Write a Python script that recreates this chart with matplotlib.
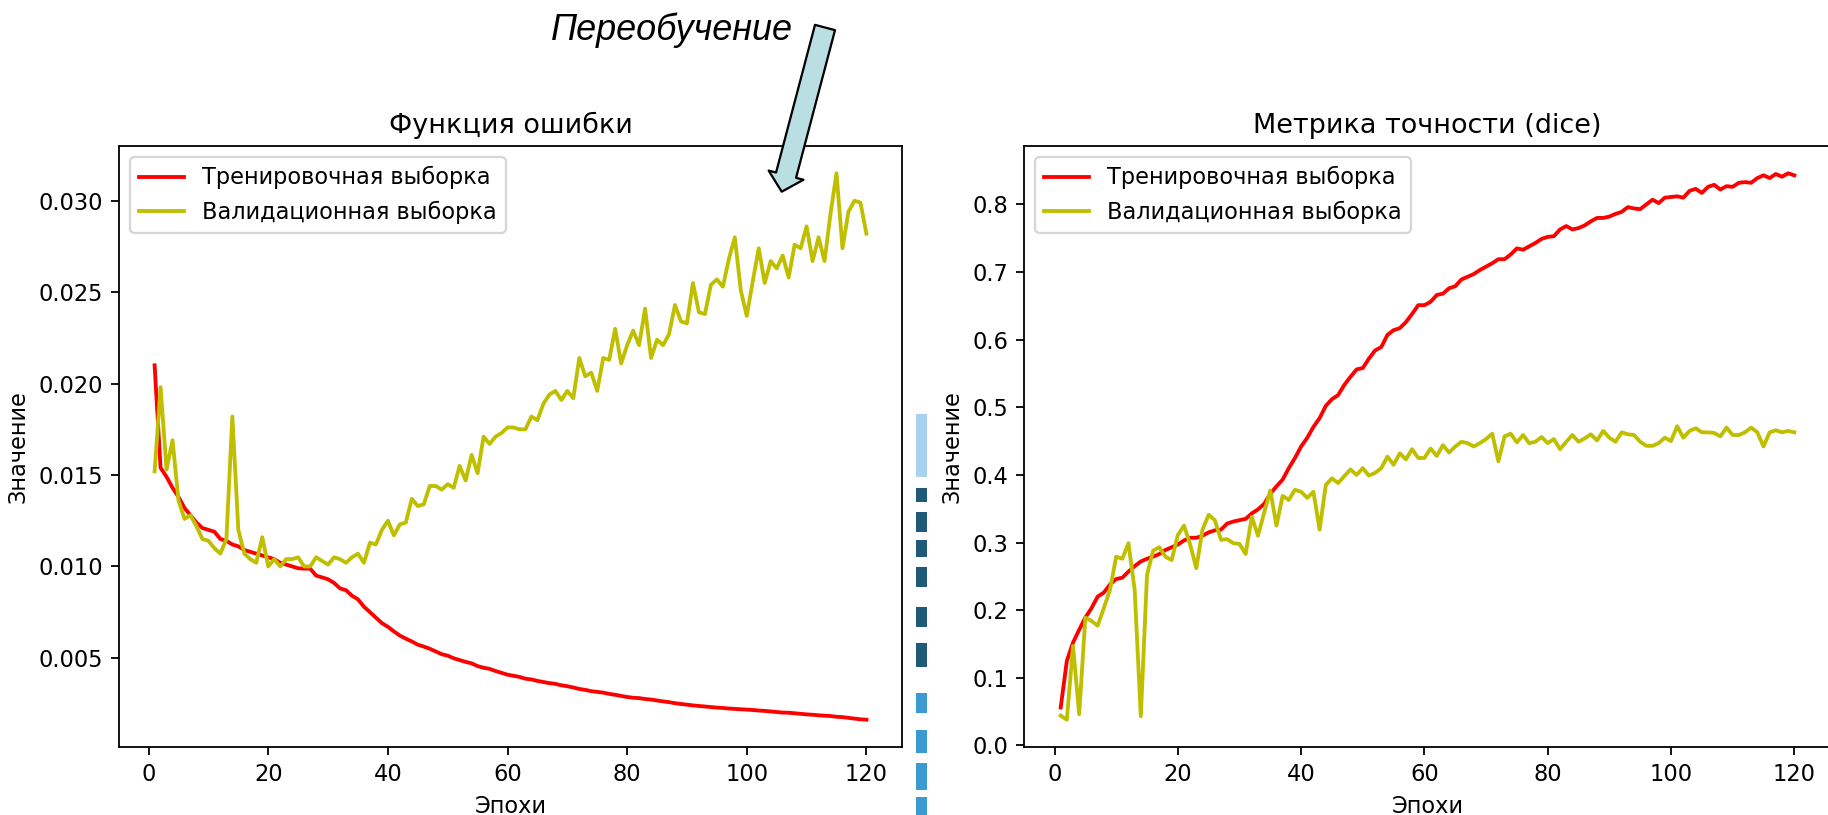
import numpy as np
import matplotlib
matplotlib.use("Agg")
import matplotlib.pyplot as plt
from matplotlib.patches import Rectangle

# DATA
epochs = np.arange(1, 121)

loss_train = [
    0.0210, 0.0154, 0.0149, 0.0143, 0.0138, 0.0132, 0.0128, 0.0124, 0.0121, 0.0120,
    0.0119, 0.0115, 0.0114, 0.0112, 0.0111, 0.0109, 0.0108, 0.0107, 0.0106, 0.0105,
    0.0104, 0.0102, 0.0101, 0.0100, 0.0099, 0.00988, 0.00988, 0.0095, 0.0094, 0.0093,
    0.0091, 0.0088, 0.0087, 0.0084, 0.0082, 0.0078, 0.0075, 0.0072, 0.0069, 0.0067,
    0.00645, 0.00622, 0.00605, 0.00590, 0.00572, 0.00562, 0.00550, 0.00535, 0.00520, 0.00512,
    0.00498, 0.00488, 0.00478, 0.00470, 0.00455, 0.00446, 0.00440, 0.00428, 0.00418, 0.00408,
    0.00402, 0.00396, 0.00386, 0.00382, 0.00374, 0.00368, 0.00362, 0.00358, 0.00350, 0.00345,
    0.00338, 0.00330, 0.00325, 0.00318, 0.00314, 0.00310, 0.00303, 0.00298, 0.00292, 0.00286,
    0.00282, 0.00280, 0.00275, 0.00272, 0.00267, 0.00262, 0.00258, 0.00252, 0.00248, 0.00244,
    0.00240, 0.00237, 0.00234, 0.00231, 0.00228, 0.00226, 0.00223, 0.00221, 0.00219, 0.00217,
    0.00215, 0.00212, 0.00210, 0.00207, 0.00204, 0.00201, 0.00200, 0.00197, 0.00194, 0.00191,
    0.00189, 0.00186, 0.00184, 0.00182, 0.00178, 0.00176, 0.00172, 0.00168, 0.00164, 0.00162,
]

loss_val = [
    0.0152, 0.0198, 0.0153, 0.0169, 0.0136, 0.0126, 0.0128, 0.0122, 0.0115, 0.0114,
    0.0110, 0.0107, 0.0115, 0.0182, 0.0120, 0.0107, 0.0104, 0.0102, 0.0116, 0.0100,
    0.0104, 0.0100, 0.0104, 0.0104, 0.0105, 0.0100, 0.0100, 0.0105, 0.0103, 0.0101,
    0.0105, 0.0104, 0.0102, 0.0105, 0.0107, 0.0102, 0.0113, 0.0112, 0.0120, 0.0125,
    0.0117, 0.0123, 0.0124, 0.0137, 0.0133, 0.0134, 0.0144, 0.0144, 0.0142, 0.0145,
    0.0143, 0.0155, 0.0147, 0.0161, 0.0151, 0.0171, 0.0167, 0.0171, 0.0173, 0.0176,
    0.0176, 0.0175, 0.0175, 0.0182, 0.0180, 0.0189, 0.0194, 0.0196, 0.0191, 0.0196,
    0.0192, 0.0214, 0.0204, 0.0206, 0.0196, 0.0214, 0.0213, 0.0230, 0.0211, 0.0221,
    0.0229, 0.0221, 0.0241, 0.0214, 0.0224, 0.0221, 0.0227, 0.0243, 0.0234, 0.0233,
    0.0255, 0.0239, 0.0238, 0.0254, 0.0257, 0.0253, 0.0268, 0.0280, 0.0251, 0.0237,
    0.0256, 0.0274, 0.0255, 0.0267, 0.0263, 0.0270, 0.0258, 0.0276, 0.0274, 0.0286,
    0.0267, 0.0280, 0.0267, 0.0293, 0.0315, 0.0274, 0.0294, 0.0300, 0.0299, 0.0282,
]

dice_train = [
    0.056, 0.125, 0.152, 0.171, 0.189, 0.203, 0.220, 0.226, 0.238, 0.246,
    0.248, 0.257, 0.265, 0.272, 0.276, 0.279, 0.283, 0.289, 0.293, 0.297,
    0.303, 0.307, 0.307, 0.310, 0.315, 0.318, 0.319, 0.328, 0.331, 0.333,
    0.335, 0.343, 0.349, 0.357, 0.372, 0.383, 0.393, 0.410, 0.425, 0.442,
    0.455, 0.471, 0.484, 0.502, 0.512, 0.518, 0.533, 0.545, 0.556, 0.558,
    0.572, 0.584, 0.589, 0.607, 0.614, 0.617, 0.626, 0.638, 0.651, 0.651,
    0.656, 0.666, 0.668, 0.676, 0.679, 0.689, 0.693, 0.697, 0.703, 0.708,
    0.713, 0.719, 0.719, 0.726, 0.735, 0.733, 0.738, 0.743, 0.749, 0.752,
    0.753, 0.763, 0.768, 0.763, 0.765, 0.769, 0.775, 0.780, 0.780, 0.782,
    0.786, 0.789, 0.796, 0.794, 0.793, 0.800, 0.807, 0.802, 0.810, 0.811,
    0.812, 0.810, 0.820, 0.823, 0.817, 0.826, 0.829, 0.822, 0.827, 0.826,
    0.832, 0.833, 0.832, 0.839, 0.843, 0.839, 0.845, 0.841, 0.846, 0.843,
]

dice_val = [
    0.044, 0.038, 0.147, 0.046, 0.189, 0.184, 0.177, 0.203, 0.230, 0.279,
    0.276, 0.299, 0.230, 0.043, 0.252, 0.288, 0.293, 0.279, 0.274, 0.311,
    0.325, 0.297, 0.262, 0.319, 0.341, 0.333, 0.304, 0.305, 0.299, 0.298,
    0.283, 0.338, 0.310, 0.344, 0.377, 0.325, 0.369, 0.363, 0.378, 0.375,
    0.366, 0.375, 0.319, 0.385, 0.395, 0.388, 0.398, 0.408, 0.400, 0.410,
    0.399, 0.403, 0.410, 0.427, 0.415, 0.432, 0.423, 0.438, 0.425, 0.425,
    0.439, 0.428, 0.444, 0.433, 0.442, 0.449, 0.447, 0.442, 0.447, 0.453,
    0.461, 0.420, 0.457, 0.461, 0.448, 0.459, 0.447, 0.449, 0.456, 0.447,
    0.453, 0.438, 0.449, 0.459, 0.449, 0.454, 0.460, 0.451, 0.465, 0.455,
    0.449, 0.463, 0.460, 0.459, 0.449, 0.443, 0.443, 0.447, 0.455, 0.450,
    0.472, 0.455, 0.465, 0.469, 0.463, 0.463, 0.462, 0.457, 0.470, 0.459,
    0.459, 0.463, 0.470, 0.463, 0.442, 0.463, 0.466, 0.463, 0.465, 0.463,
]

label_train = 'Тренировочная выборка'
label_val = 'Валидационная выборка'

# FIGURA (1828x815 px)
DPI = 162
fig = plt.figure(figsize=(1828 / DPI, 815 / DPI), dpi=DPI)
LW = 1.7

ax1 = fig.add_axes([119 / 1828, 68 / 815, 783 / 1828, 601 / 815])
ax1.plot(epochs, loss_train, 'r', lw=LW, label=label_train)
ax1.plot(epochs, loss_val, 'y', lw=LW, label=label_val)
ax1.set_title('Функция ошибки')
ax1.set_xlabel('Эпохи')
ax1.set_ylabel('Значение')
ax1.legend(loc='upper left')

ax2 = fig.add_axes([1024 / 1828, 68 / 815, 807 / 1828, 601 / 815])
ax2.plot(epochs, dice_train, 'r', lw=LW, label=label_train)
ax2.plot(epochs, dice_val, 'y', lw=LW, label=label_val)
ax2.set_title('Метрика точности (dice)')
ax2.set_xlabel('Эпохи')
ax2.set_ylabel('Значение')
ax2.legend(loc='upper left')

# ADNOTARE "Переобучение" CU SAGEATA
fig.text(551 / 1828, 775 / 815, 'Переобучение', fontsize=16, style='italic',
         family=['Liberation Sans', 'DejaVu Sans'], ha='left', va='baseline')
ax1.annotate('', xy=(781.7, 815 - 191.7), xytext=(825, 815 - 27.5),
             xycoords='figure pixels', textcoords='figure pixels',
             arrowprops=dict(arrowstyle='simple,head_length=0.38,head_width=0.8,tail_width=0.46',
                             mutation_scale=20, fc='#b9dfe3', ec='black', lw=1.0,
                             shrinkA=0, shrinkB=0),
             annotation_clip=False)

# banda albastra din mijloc (artefact din slide)
strip = [(414, 477, '#a9d2ee'), (488, 502, '#215a78'), (512, 532, '#215a78'),
         (540, 557, '#215a78'), (567, 587, '#215a78'), (607, 627, '#215a78'),
         (643, 667, '#215a78'), (693, 713, '#3b9bd1'), (730, 753, '#3b9bd1'),
         (763, 790, '#3b9bd1'), (797, 815, '#3b9bd1')]
for y0, y1, c in strip:
    fig.add_artist(Rectangle((916 / 1828, 1 - y1 / 815), 11 / 1828, (y1 - y0) / 815,
                             transform=fig.transFigure, color=c, lw=0))

plt.savefig('out.png', dpi=DPI)
